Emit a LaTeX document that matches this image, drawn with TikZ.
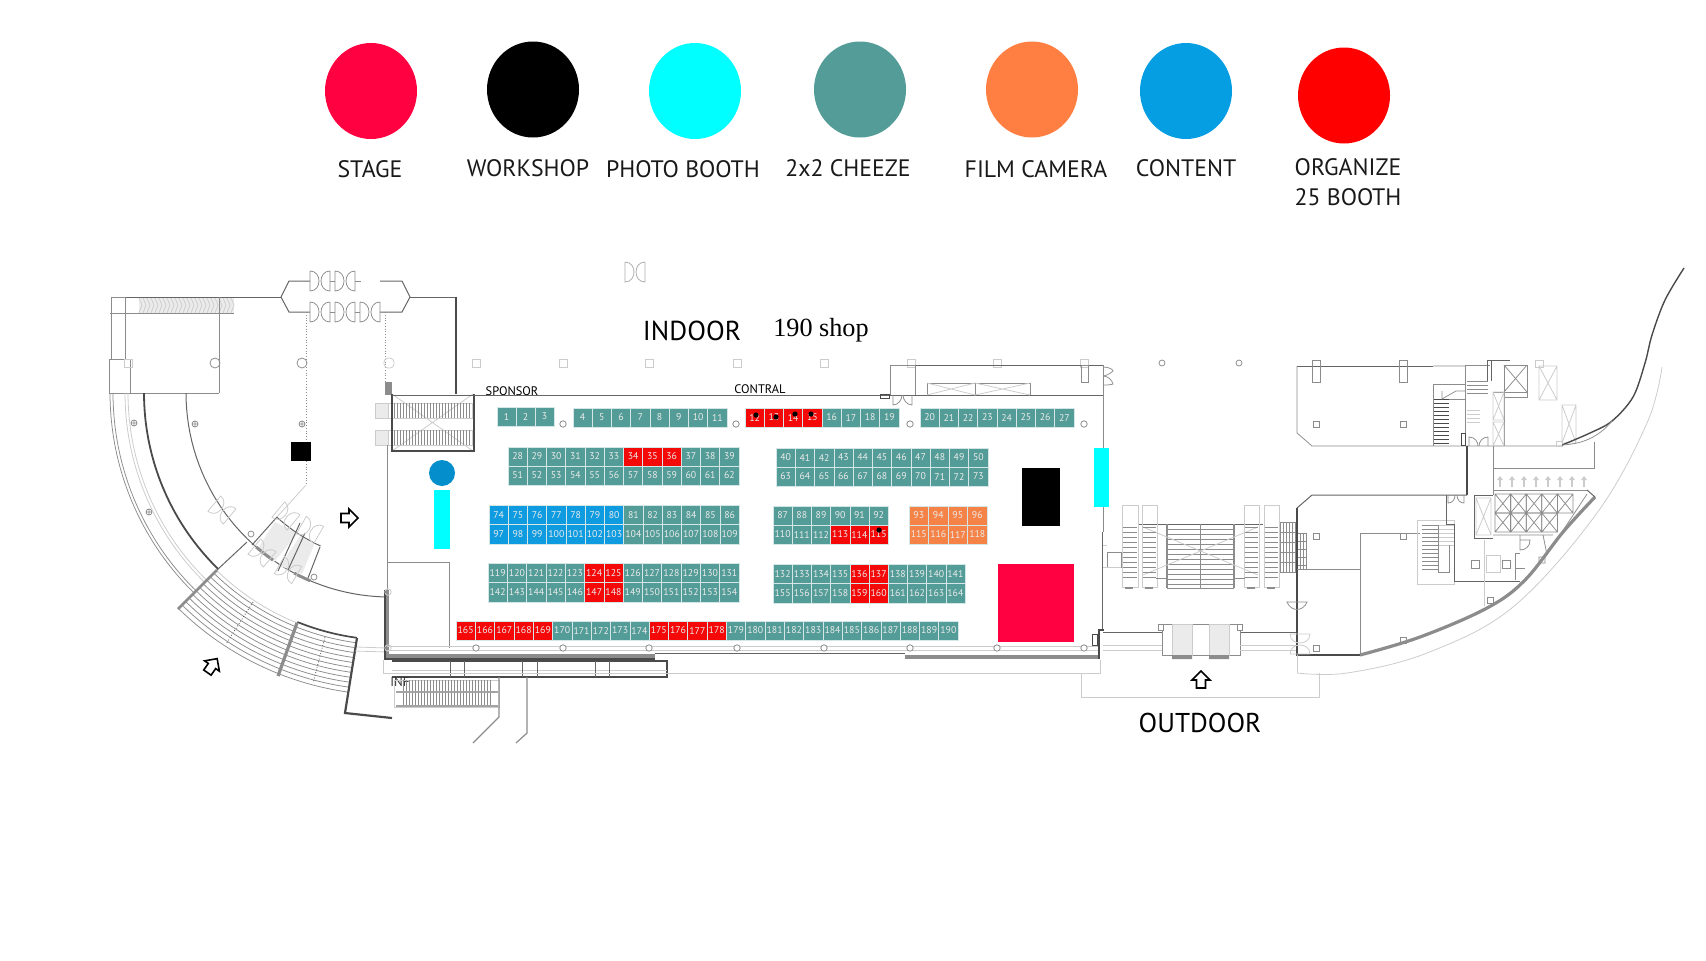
\documentclass[tikz,border=0pt]{standalone}
\usepackage{fontspec}
\setmainfont{PT Sans}
\newfontfamily\shopfont{Liberation Serif}
\definecolor{boothteal}{HTML}{549C97}
\definecolor{boothred}{HTML}{F40808}
\definecolor{boothblue}{HTML}{0F9BE0}
\definecolor{boothorg}{HTML}{F58347}
\definecolor{stagecol}{HTML}{FF0040}
\definecolor{photocol}{HTML}{00FFFF}
\definecolor{filmcol}{HTML}{FF7F43}
\definecolor{contentcol}{HTML}{069EE3}
\definecolor{orgcol}{HTML}{FF0000}
\definecolor{walld}{HTML}{4A4A4A}
\definecolor{wallm}{HTML}{8C8C8C}
\definecolor{walll}{HTML}{CCCCCC}
\definecolor{panelg}{HTML}{EBEBEB}
\tikzset{
  x=0.5pt,y=-0.5pt,
  booth/.style={rectangle,inner sep=0pt,draw=white!75!boothteal,line width=.3pt,text=white!92!black,font=\fontsize{4.9}{6}\selectfont},
  legendlabel/.style={inner sep=0pt,align=center,text=black!90,font=\fontsize{11.9}{15}\selectfont},
  thick wall/.style={draw=walld,line width=.85pt},
  wall/.style={draw=walld!85,line width=.5pt},
  mid/.style={draw=wallm,line width=.38pt},
  faint/.style={draw=walll,line width=.4pt},
  heavy/.style={draw=wallm,line width=1.5pt},
  flowarrow/.style={draw=black,line width=.8pt,fill=white},
}
% x0, ytop, h, w, first, last, accent from, accent to, base colour
\newcommand\brow[9]{%
  \foreach \n in {#5,...,#6}{%
    \pgfmathsetmacro\cx{#1+(\n-#5)*#4+#4/2}%
    \pgfmathsetmacro\cy{#2+#3/2}%
    \def\col{#9}%
    \ifnum\n<#7\relax\else\ifnum\n>#8\relax\else\def\col{boothred}\fi\fi
    \node[booth,fill=\col,minimum width=#4*.5pt,minimum height=#3*.5pt] (#9\n) at (\cx,\cy) {\n};
  }}
% arc about the centre of the left wing
\newcommand\wingarc[4]{\draw[#1,domain=#3:#4,samples=40,variable=\t] plot ({390+#2*cos(\t)},{393+#2*sin(\t)});}
% double door
\newcommand\dbldoor[4]{\begin{scope}[shift={(#1,#2)},rotate=#3]
  \draw[#4] (-10,-10) -- (-10,10) .. controls (-4,10) and (-1,5) .. (-1,0) .. controls (-1,-5) and (-4,-10) .. (-10,-10);
  \draw[#4] (10,-10) -- (10,10) .. controls (4,10) and (1,5) .. (1,0) .. controls (1,-5) and (4,-10) .. (10,-10);
\end{scope}}
\newcommand\flowmark[3]{\begin{scope}[shift={(#1,#2)},rotate=#3]
  \draw[flowarrow] (9,0) -- (0,-9) -- (0,-4.5) -- (-8,-4.5) -- (-8,4.5) -- (0,4.5) -- (0,9) -- cycle;
\end{scope}}
\begin{document}
\begin{tikzpicture}
\useasboundingbox (0,0) rectangle (1706,960);
% ---------- legend
\fill[stagecol] (371,91) ellipse[x radius=46,y radius=48];
\fill[black] (533,89.5) ellipse[x radius=46,y radius=48];
\fill[photocol] (695,91) ellipse[x radius=46,y radius=48];
\fill[boothteal] (860,89.5) ellipse[x radius=46,y radius=48];
\fill[filmcol] (1032,89.5) ellipse[x radius=46,y radius=48];
\fill[contentcol] (1186,91) ellipse[x radius=46,y radius=48];
\fill[orgcol] (1344,95.5) ellipse[x radius=46,y radius=48];
\node[legendlabel] (lstage) at (370,169.5) {STAGE};
\node[legendlabel] (lwork) at (528,168.5) {WORKSHOP};
\node[legendlabel] (lphoto) at (683,169.5) {PHOTO BOOTH};
\node[legendlabel] (lcheeze) at (848,168.5) {2x2 CHEEZE};
\node[legendlabel] (lfilm) at (1036,169.5) {FILM CAMERA};
\node[legendlabel] (lcontent) at (1186,168.5) {CONTENT};
\node[legendlabel] (lorg) at (1348,182) {ORGANIZE\\25 BOOTH};
% ---------- area labels
\node[inner sep=0pt,font=\fontsize{13.7}{16}\selectfont] (indoor) at (692,331) {INDOOR};
\node[inner sep=0pt,anchor=base,font=\shopfont\fontsize{13.1}{16}\selectfont] (shop) at (821,336) {190 shop};
\node[inner sep=0pt,font=\fontsize{13.6}{16}\selectfont] (outdoor) at (1200,723) {OUTDOOR};
\node[inner sep=0pt,font=\fontsize{6.2}{7}\selectfont] (sponsor) at (512,391) {SPONSOR};
\node[inner sep=0pt,font=\fontsize{6.2}{7}\selectfont] (contral) at (760,389) {CONTRAL};
% ---------- top door symbol
\dbldoor{635}{272}{0}{wallm!70}
% ---------- north-west wing
\fill[panelg] (139,298) rectangle (234,313);
\foreach \hx in {139,143,...,231}{\draw[walll,line width=.35pt] (\hx,298) -- (\hx+3,305) -- (\hx,313);}
\draw[wall] (125,297) -- (281,297);
\draw[mid] (111,297) -- (125,297) (111,297) -- (111,359) (125,297) -- (125,359);
\draw[mid] (110,313) -- (234,313);
\draw[mid] (219,297) -- (219,393);
\draw[mid] (130,393) -- (219,393);
\draw[mid] (109,359) rectangle (130,393);
\draw[faint] (124,359) rectangle (132,367);
\draw[wall] (281,297) -- (289,281) -- (310,281);
\draw[wall] (281,297) -- (289,312) -- (310,312);
\draw[wall] (380,312) -- (402,312) -- (410,297) -- (402,281) -- (380,281);
\draw[wall] (410,297) -- (456,297);
\draw[thick wall] (456,297) -- (456,394);
\dbldoor{320}{281}{0}{mid}
\dbldoor{345}{281}{0}{mid}
\dbldoor{320}{312}{0}{mid}
\dbldoor{345}{312}{0}{mid}
\dbldoor{370}{312}{0}{mid}
\draw[mid] (330,281) -- (335,281) (355,281) -- (361,281) (330,312) -- (335,312) (355,312) -- (360,312);
\draw[mid,densely dotted] (306,312) -- (306,485) (385,312) -- (385,382);
\draw[faint] (306,485) -- (277,517);
% columns
\foreach \cxa in {215,302}{\draw[mid] (\cxa,363) circle[radius=5];}
\draw[faint,rounded corners=2pt] (384,358) rectangle (394,368);
\foreach \cxa in {476,563,649,737,824,911,997,1084}{\draw[faint] (\cxa-4,359) rectangle (\cxa+4,367);}
\foreach \cxa in {1162,1239}{\draw[mid] (\cxa,363) circle[radius=3];}
\foreach \cxa/\cya in {134/423,195/424,302/424,149/512}{
  \draw[mid] (\cxa,\cya) circle[radius=3] (\cxa-3,\cya) -- (\cxa+3,\cya) (\cxa,\cya-3) -- (\cxa,\cya+3);}
\fill[black] (291,442) rectangle (311,461);
% escalator box at hall corner
\fill[wallm] (385,382) rectangle (392,395);
\draw[faint] (392,394) -- (473,451) (392,451) -- (473,394);
\foreach \ey in {403,430}{
  \draw[faint,fill=panelg] (375,\ey) rectangle (388,\ey+15);
  \draw[faint] (388,\ey) rectangle (472,\ey+15);
  \foreach \ex in {391,394,...,470}{\draw[wallm,line width=.3pt] (\ex,\ey) -- (\ex,\ey+15);}
}
\draw[thick wall] (392,394) -- (392,451) -- (474,451) -- (474,394);
% ---------- arcs of the wing
\wingarc{wall}{204}{180}{91}
\wingarc{draw=walld,line width=.9pt}{246}{180}{134.3}
\wingarc{mid}{280}{180}{134.3}
\wingarc{mid}{277}{180}{134.3}
\wingarc{faint}{265}{180}{134.3}
\wingarc{faint}{262}{180}{134.3}
% stair steps
\foreach \r in {252,257,...,302}{\wingarc{mid}{\r}{134.3}{98}}
\wingarc{faint}{248}{134.3}{112}
\wingarc{thick wall}{247}{112}{97.7}
\draw[draw=wallm,line width=1.4pt] (217,570) -- (178,609);
\draw[heavy,line width=1.6pt] (297,623) -- (278,676);
\draw[draw=walld,line width=1.1pt] (357,638) -- (345,713) -- (392,718);
\draw[walld,densely dotted,line width=.4pt] (253,602) -- (226,644) (325,637) -- (313,683);
\draw[wall] (217,570) -- (247,542);
\draw[faint] (357,647) -- (387,648) (355,651) -- (387,652);
% vestibule
\fill[panelg] (275,522) -- (298,533) -- (274,562) -- (258,548) -- cycle;
\fill[panelg] (300,536) -- (314,545) -- (302,574) -- (280,566) -- cycle;
\wingarc{wall}{168}{132.3}{114.4}
\draw[wall] (277,517) -- (252,545) (300,523) -- (278,571) (305,533) -- (288,570) (320,547) -- (308,578);
\wingarc{draw=wallm,line width=1.5pt}{204}{131}{125}
\wingarc{draw=wallm,line width=1.5pt}{204}{118}{113}
\foreach \vx/\vy/\va in {222/510/-40,286/516/-40,310/530/-30,262/553/-40,288/570/-30}{\dbldoor{\vx}{\vy}{\va}{walll}}
\draw[mid] (251,534) circle[radius=3] (314,577) circle[radius=3];
% ---------- hall walls
\draw[wall] (392,395) -- (1104,395);
\draw[mid] (1103,365) -- (1103,532);
\draw[wall] (1102,532) -- (1102,630);
\draw[mid] (387,445) -- (387,590);
\draw[draw=wallm,line width=1.6pt] (387,590) -- (387,658);
\draw[draw=walld,line width=.8pt] (385,590) -- (385,659) -- (655,659);
\draw[draw=wallm,line width=2.2pt] (389,656) -- (655,656);
\draw[mid] (387,562) -- (449,562) -- (449,648);
\draw[faint] (387,646) -- (1100,646) (387,650) -- (1100,650);
\draw[wall] (655,653) -- (905,653);
\draw[draw=wallm,line width=2pt] (905,657) -- (1098,657);
\draw[thick wall] (1099,659) -- (1099,630) -- (1104,630);
\draw[walld,line width=.5pt] (1092,634) rectangle (1097,645);
\foreach \cxa in {476,563,649,737,824,910,997,1084}{\draw[wallm,fill=white,line width=.4pt] (\cxa,648) circle[radius=3.2];}
\foreach \cya in {592,648}{\draw[faint] (388,\cya) circle[radius=3.2];}
\foreach \cxa in {563,736,910,1084}{\draw[wallm,line width=.4pt] (\cxa,424) circle[radius=3.2];}
% south gallery
\draw[thick wall] (392,661) -- (667,661) -- (667,677) -- (392,677);
\draw[faint] (392,670) -- (667,670);
\foreach \gx in {450,464,522,537,595,609}{\draw[wall] (\gx,661) -- (\gx,677);}
\draw[faint] (383,660) -- (383,673) -- (1100,673) -- (1100,660);
\node[inner sep=0pt,text=black!80,font=\fontsize{6.5}{7}\selectfont] (inf) at (400,682) {INF};
% lower escalator
\draw[faint] (394,680) rectangle (499,707);
\foreach \ex in {403,406,...,490}{\draw[wallm,line width=.3pt] (\ex,680) -- (\ex,705);}
\draw[draw=wallm!80,line width=1.4pt] (396,692) -- (498,692);
\draw[draw=wallm!80,line width=.9pt] (396,706) -- (498,706);
\draw[mid,line width=.6pt] (499,677) -- (499,717) -- (473,743);
\draw[mid,line width=.6pt] (527,677) -- (527,733) -- (516,743);
% north-east room of hall
\draw[mid] (890,395) -- (890,365) -- (915,365);
\draw[wall] (915,365) -- (1103,365);
\draw[mid] (915,365) -- (915,395);
\draw[mid] (927,395) -- (927,383) -- (1030,383) -- (1030,395) (975,383) -- (975,395);
\draw[faint] (927,383) -- (975,395) (927,395) -- (975,383) (975,383) -- (1030,395) (975,395) -- (1030,383);
\draw[mid] (1081,365) rectangle (1088,382);
\draw[walld,line width=.4pt] (880,394) rectangle (889,398);
\draw[mid] (893,395) -- (893,405) .. controls (898,405) and (902,400) .. (902,395);
\draw[mid] (912,395) -- (912,405) .. controls (907,405) and (903,400) .. (903,395);
\draw[mid] (1103,367) .. controls (1110,367) and (1113,370) .. (1113,371) .. controls (1110,374) and (1105,376) .. (1103,376);
\draw[mid] (1103,376) .. controls (1108,376) and (1112,380) .. (1113,384) .. controls (1110,385) and (1106,385) .. (1103,385);
% ---------- booths
\brow{497}{407}{19}{19}{1}{3}{9999}{9999}{boothteal}
\brow{573}{408}{19}{19.25}{4}{11}{9999}{9999}{boothteal}
\brow{745}{408}{19}{19.25}{12}{19}{12}{15}{boothteal}
\brow{920}{408}{19}{19.25}{20}{27}{9999}{9999}{boothteal}
\brow{508}{447}{19}{19.25}{28}{39}{34}{36}{boothteal}
\brow{508}{466}{19}{19.25}{51}{62}{9999}{9999}{boothteal}
\brow{776}{448}{19}{19.27}{40}{50}{9999}{9999}{boothteal}
\brow{776}{467}{19}{19.27}{63}{73}{9999}{9999}{boothteal}
\brow{489}{505}{19.5}{19.25}{74}{80}{9999}{9999}{boothblue}
\brow{623.75}{505}{19.5}{19.25}{81}{86}{9999}{9999}{boothteal}
\brow{489}{524.5}{19.5}{19.25}{97}{103}{9999}{9999}{boothblue}
\brow{623.75}{524.5}{19.5}{19.25}{104}{109}{9999}{9999}{boothteal}
\brow{773}{506}{19}{19.2}{87}{92}{9999}{9999}{boothteal}
\brow{773}{525}{19}{19.2}{110}{115}{113}{115}{boothteal}
\brow{909}{506}{19}{19.5}{93}{96}{9999}{9999}{boothorg}
\brow{909}{525}{19}{19.5}{115}{118}{9999}{9999}{boothorg}
\brow{488}{563}{19.5}{19.3}{119}{131}{124}{125}{boothteal}
\brow{488}{582.5}{19.5}{19.3}{142}{154}{147}{148}{boothteal}
\brow{773}{564}{19.5}{19.2}{132}{141}{136}{137}{boothteal}
\brow{773}{583.5}{19.5}{19.2}{155}{164}{159}{160}{boothteal}
\brow{456}{621}{19}{19.31}{165}{174}{165}{169}{boothteal}
\brow{649.1}{621}{19}{19.31}{175}{190}{175}{178}{boothteal}
\foreach \mx/\my in {756/415,776/417,795/414,811/414,879/530}{\fill[black] (\mx,\my) circle[radius=2.6];}
% feature blocks
\fill[black] (1022,468) rectangle (1060,526);
\fill[stagecol] (998,564) rectangle (1074,642);
\fill[photocol] (1094,448) rectangle (1109,507);
\fill[photocol] (434,490) rectangle (450,549);
\fill[contentcol!90!black] (442,473) circle[radius=13];
% ---------- central stairs
\draw[mid] (1107,552) rectangle (1121,567);
\draw[faint] (1103,545) -- (1107,545) (1103,567) -- (1121,567);
\draw[wall] (1138,524) -- (1263,524);
\foreach \sy in {529,534,...,586}{\draw[wallm,line width=.35pt] (1167,\sy) -- (1234,\sy);}
\draw[mid] (1167,588) -- (1234,588);
\draw[draw=wallm,line width=1.2pt] (1167,524) -- (1167,588) (1234,524) -- (1234,588);
\draw[mid] (1200,524) -- (1200,588);
\draw[faint] (1143,527) -- (1258,575) (1143,575) -- (1258,527);
\foreach \ex/\ew in {1123/14,1143/13,1245/13,1265/13}{
  \draw[faint] (\ex-1,505) rectangle (\ex+\ew+1,587);
  \foreach \ey in {527,532,...,577}{\draw[wallm,line width=.35pt] (\ex,\ey) -- (\ex+\ew,\ey);}
}
\foreach \ex in {1123,1143,1245,1265}{\fill[wallm] (\ex+2,587) rectangle (\ex+10,589);}
\draw[mid] (1156,578) -- (1167,578) (1234,578) -- (1245,578);
\foreach \sx in {1280,1283,...,1297}{\draw[wallm,line width=.35pt] (\sx,522) -- (\sx,572);}
\foreach \sy in {522,532,...,572}{\draw[wallm,line width=.35pt] (1280,\sy) -- (1297,\sy);}
\foreach \sx in {1297,1300,...,1307}{\draw[wallm,line width=.35pt] (\sx,533) -- (\sx,569);}
\foreach \sy in {533,541,...,569}{\draw[wallm,line width=.35pt] (1297,\sy) -- (1307,\sy);}
% ---------- entrance
\draw[wall] (1103,632) -- (1162,632) (1240,632) -- (1297,632);
\draw[mid] (1158,624) -- (1242,624) (1158,624) rectangle (1163,630) (1237,624) rectangle (1242,630);
\draw[mid] (1162,630) -- (1162,655) -- (1240,655) -- (1240,630);
\fill[panelg] (1172,624) rectangle (1192,655) (1209,624) rectangle (1229,655);
\draw[faint] (1172,624) rectangle (1192,655) (1209,624) rectangle (1229,655);
\fill[wallm] (1172,655) rectangle (1192,659) (1209,655) rectangle (1229,659);
\draw[faint] (1103,645) -- (1162,645) (1103,650) -- (1162,650) (1240,645) -- (1297,645) (1240,650) -- (1297,650);
\flowmark{1201}{680}{90}
\flowmark{349}{518}{0}
\flowmark{212}{666}{55}
% ---------- east upper block
\draw[wall] (1297,366) -- (1433,366);
\draw[mid] (1433,366) -- (1465,366) (1297,366) -- (1297,433) -- (1312,446) -- (1562,446);
\draw[mid] (1312,360) rectangle (1320,382) (1399,360) rectangle (1407,382);
\draw[mid] (1313,421) rectangle (1319,427) (1400,421) rectangle (1406,427);
\draw[mid] (1433,446) -- (1433,384) -- (1465,384);
\draw[mid] (1465,365) -- (1465,446);
\foreach \sy in {399,403,...,443}{\draw[walld,line width=.35pt] (1434,\sy) -- (1449,\sy);}
\draw[mid] (1442,391) -- (1442,399) -- (1456,391) -- (1465,391);
\draw[mid] (1449,399) -- (1465,399);
\foreach \sy in {381,385,...,396}{\draw[wallm,line width=.35pt] (1467,\sy) -- (1488,\sy);}
\foreach \sy in {410,414,...,425}{\draw[faint] (1467,\sy) -- (1480,\sy);}
\draw[mid] (1465,365) -- (1490,365);
\draw[wall] (1487,360) -- (1510,360) (1491,360) -- (1491,381) (1487,360) -- (1487,381);
\draw[walld,line width=.5pt] (1461,433) rectangle (1465,445);
\draw[mid] (1469,446) -- (1469,437) .. controls (1475,437) and (1478,442) .. (1478,446);
\draw[mid] (1488,446) -- (1488,437) .. controls (1482,437) and (1479,442) .. (1479,446);
\draw[mid,line width=.5pt] (1504,365) rectangle (1527,392);
\draw[mid] (1504,365) -- (1527,392) (1504,392) -- (1527,365);
\draw[mid,line width=.5pt] (1504,392) -- (1504,397) -- (1527,397) -- (1527,392);
\draw[mid] (1504,397) -- (1504,446) (1493,392) -- (1504,392);
\draw[faint] (1493,392) rectangle (1504,420) (1493,392) -- (1504,420) (1493,420) -- (1504,392);
\draw[faint] (1493,422) rectangle (1504,446) (1493,422) -- (1504,446) (1493,446) -- (1504,422);
\draw[faint] (1535,360) rectangle (1543,367);
\draw[faint] (1539,366) rectangle (1557,400) (1539,366) -- (1557,400) (1539,400) -- (1557,366);
\draw[faint] (1562,405) rectangle (1576,443) (1562,405) -- (1576,443) (1562,443) -- (1576,405);
\draw[faint] (1556,441) rectangle (1562,446);
\draw[draw=walld,line width=.7pt] plot[smooth,tension=.55] coordinates {(1684,268) (1665,300) (1652,335) (1645,363) (1633,397) (1612,421) (1590,433) (1562,445)};
\draw[mid] (1612,421) .. controls (1597,439) and (1580,444) .. (1562,445);
% corridor and lower block
\draw[thick wall] (1467,446) -- (1467,495);
\draw[mid] (1493,446) -- (1493,495);
\draw[mid] (1493,468) -- (1594,468) -- (1594,442);
\foreach \i in {0,...,7}{\draw[walll,line width=.6pt] (1500+\i*12,477) -- (1500+\i*12,487);\fill[walll] (1497+\i*12,480) -- (1500+\i*12,476) -- (1503+\i*12,480) -- cycle;}
\draw[wall] (1297,508) -- (1312,495) -- (1467,495);
\draw[thick wall] (1297,508) -- (1297,655) -- (1360,655);
\draw[draw=wallm,line width=1.6pt] plot[smooth,tension=.6] coordinates {(1360,655) (1420,637) (1487,608) (1525,580) (1563,532) (1595,497)};
\draw[mid] (1360,533) -- (1360,655) (1360,533) -- (1420,533) (1297,569) -- (1360,569);
\foreach \qx/\qy in {1316/536,1403/536,1403/640,1316/648}{\draw[mid] (\qx-3,\qy-3) rectangle (\qx+3,\qy+3);}
% lower stairs and service rooms
\draw[faint] (1417,520) rectangle (1454,584);
\foreach \sy in {525,529,...,572}{\draw[wallm,line width=.35pt] (1422,\sy) -- (1438,\sy);}
\foreach \sy in {525,529,...,545}{\draw[walll,line width=.35pt] (1438,\sy) -- (1454,\sy);}
\draw[mid] (1438,525) -- (1438,572) -- (1449,572) -- (1449,545);
\draw[wall] (1446,495) -- (1446,524) -- (1454,524) -- (1454,581) -- (1520,581);
\draw[mid] (1448,495) -- (1448,503) .. controls (1452,503) and (1455,500) .. (1455,495);
\draw[mid] (1464,495) -- (1464,503) .. controls (1460,503) and (1457,500) .. (1457,495);
\draw[wall] (1474,495) -- (1493,495) (1474,495) -- (1474,538) -- (1493,538);
\draw[faint] (1476,498) rectangle (1491,535) (1476,498) -- (1491,535) (1476,535) -- (1491,498);
\foreach \gx in {0,...,4}{\draw[mid] (1495+\gx*15.6,494) rectangle (1495+\gx*15.6+15.6,513) (1495+\gx*15.6,494) -- (1495+\gx*15.6+15.6,513) (1495+\gx*15.6,513) -- (1495+\gx*15.6+15.6,494);}
\foreach \gx in {0,...,3}{\draw[mid] (1495+\gx*15.6,513) rectangle (1495+\gx*15.6+15.6,532) (1495+\gx*15.6,513) -- (1495+\gx*15.6+15.6,532) (1495+\gx*15.6,532) -- (1495+\gx*15.6+15.6,513);}
\draw[mid] (1493,490) -- (1587,490);
\draw[wall] (1587,490) -- (1595,497);
\draw[mid] (1587,494) -- (1560,535) (1493,535) -- (1553,535);
\draw[wallm,line width=.4pt] (1520,535) -- (1520,550) .. controls (1525,550) and (1530,547) .. (1530,540) -- (1520,540);
\draw[mid] (1520,553) -- (1515,553) -- (1515,580) (1515,568) -- (1525,568);
\draw[mid] (1543,535) -- (1547,555) (1539,557) rectangle (1545,563);
\draw[mid] (1471,560) rectangle (1479,568) (1502,560) rectangle (1510,568);
\draw[faint] (1484,540) -- (1484,606) (1486,555) rectangle (1500,572);
\draw[mid] (1487,597) rectangle (1493,603);
\draw[faint] plot[smooth,tension=.6] coordinates {(1662,367) (1647,423) (1597,513) (1513,607) (1427,653) (1347,673) (1297,673)};
\draw[faint] (1297,655) -- (1297,673);
\draw[faint] (1319,673) -- (1319,697) -- (1081,697) -- (1081,673);
\dbldoor{1300}{644}{90}{walll}
\draw[mid] (1287,602) .. controls (1291,612) and (1303,612) .. (1307,602) -- cycle;
\end{tikzpicture}
\end{document}
